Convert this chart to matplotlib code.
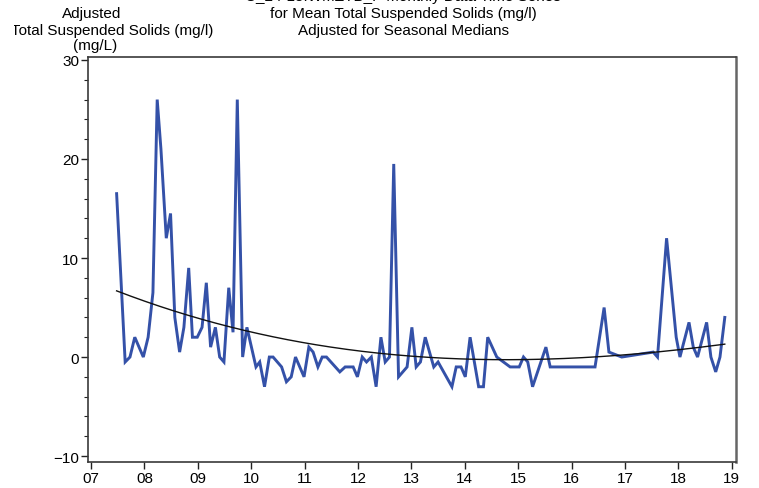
import numpy as np
import matplotlib
matplotlib.use("Agg")
import matplotlib.pyplot as plt
from matplotlib.ticker import MultipleLocator, FixedLocator
from matplotlib.transforms import Bbox

# ---- data ----
years = [2007.48, 2007.64, 2007.73, 2007.82, 2007.98, 2008.07, 2008.16, 2008.24,
         2008.31, 2008.41, 2008.49, 2008.57, 2008.66, 2008.74, 2008.83, 2008.90,
         2008.99, 2009.08, 2009.16, 2009.24, 2009.33, 2009.41, 2009.49, 2009.58,
         2009.66, 2009.74, 2009.84, 2009.92, 2010.09, 2010.16, 2010.25, 2010.34,
         2010.41, 2010.57, 2010.66, 2010.75, 2010.83, 2010.99, 2011.08, 2011.16,
         2011.25, 2011.33, 2011.41, 2011.66, 2011.76, 2011.91, 2011.99, 2012.08,
         2012.16, 2012.25, 2012.34, 2012.43, 2012.51, 2012.59, 2012.67, 2012.76,
         2012.92, 2013.01, 2013.09, 2013.17, 2013.26, 2013.42, 2013.50, 2013.76,
         2013.84, 2013.93, 2014.01, 2014.10, 2014.26, 2014.35, 2014.43, 2014.60,
         2014.85, 2015.02, 2015.10, 2015.18, 2015.27, 2015.52, 2015.60, 2016.44,
         2016.61, 2016.70, 2016.94, 2017.53, 2017.61, 2017.78, 2017.96, 2018.03,
         2018.20, 2018.28, 2018.36, 2018.53, 2018.61, 2018.70, 2018.78, 2018.87]
tss_adj = [16.5, -0.5, 0, 2, 0, 2, 6.5, 26,
           21, 12, 14.5, 4, 0.5, 3, 9, 2,
           2, 3, 7.5, 1, 3, 0, -0.5, 7,
           2.5, 26, 0, 3, -1, -0.5, -3, 0,
           0, -1, -2.5, -2, 0, -2, 1, 0.5,
           -1, 0, 0, -1.5, -1, -1, -2, 0,
           -0.5, 0, -3, 2, -0.5, 0, 19.5, -2,
           -1, 3, -1, -0.5, 2, -1, -0.5, -3,
           -1, -1, -2, 2, -3, -3, 2, 0,
           -1, -1, 0, -0.5, -3, 1, -1, -1,
           5, 0.5, 0, 0.5, 0, 12, 2, 0,
           3.5, 1, 0, 3.5, 0, -1.5, 0, 4]

# trend curve values read at a few positions
trend_years = [2007.48, 2009.64, 2010.54, 2011.89, 2013.16, 2014.10, 2015.03,
               2016.44, 2017.59, 2018.87]
trend_vals = [6.6, 3.2, 1.95, 0.6, -0.1, -0.3, -0.25, 0.15, 0.6, 1.2]

xtick_years = list(range(2007, 2020))
xtick_labels = ["%02d" % (y % 100) for y in xtick_years]
ytick_vals = [-10, 0, 10, 20, 30]

title_lines = ["C_24-15.WMZTB_P Monthly Data Time Series",
               "for Mean Total Suspended Solids (mg/l)",
               "Adjusted for Seasonal Medians"]
ylabel_lines = ["Adjusted", "Total Suspended Solids (mg/l)", "(mg/L)"]

# ---- figure ----
W, H = 759, 489
fig = plt.figure(figsize=(W / 100, H / 100), dpi=100)
plt.rcParams['font.family'] = ['Liberation Sans', 'DejaVu Sans']

L, R, T, B = 88, 736, 58, 463
ax = fig.add_axes([L / W, 1 - B / H, (R - L) / W, (B - T) / H])

blue = '#3451A8'
ax.plot(years, tss_adj, color=blue, lw=2.1, solid_joinstyle='miter', zorder=3)

coef = np.polyfit(np.array(trend_years) - 2007, trend_vals, 3)
tt = np.linspace(trend_years[0], trend_years[-1], 300)
ax.plot(tt, np.polyval(coef, tt - 2007), color='#111111', lw=1.0, zorder=4)

ax.set_xlim(2006.944, 2019.08)
ax.set_ylim(-10.6, 30.3)
ax.xaxis.set_major_locator(FixedLocator(xtick_years))
ax.set_xticklabels(xtick_labels)
ax.yaxis.set_major_locator(FixedLocator(ytick_vals))
ax.yaxis.set_minor_locator(MultipleLocator(2))
ax.tick_params(axis='both', which='major', direction='out', length=5, width=1,
               labelsize=11, colors='#222222', pad=1.5)
ax.tick_params(axis='y', which='minor', direction='out', length=3, width=0.8,
               colors='#222222')
for lab in ax.get_xticklabels() + ax.get_yticklabels():
    lab.set_color('black')
for s in ax.spines.values():
    s.set_color('#3a3a3a')
    s.set_linewidth(1.2)
ax.spines['right'].set_color('#666666')
ax.spines['right'].set_linewidth(1.8)

def px(x, y):
    return x / W, 1 - y / H

# titles
fs = 11
fig.text(*px(403, -3), title_lines[0], ha='center', va='center', fontsize=fs)
fig.text(*px(403, 14), title_lines[1], ha='center', va='center', fontsize=fs)
fig.text(*px(403, 31), title_lines[2], ha='center', va='center', fontsize=fs)

# y label block (clipped at left)
fig.text(*px(92, 14), ylabel_lines[0], ha='center', va='center', fontsize=fs)
t2 = fig.text(*px(112, 31), ylabel_lines[1], ha='center', va='center', fontsize=fs)
t2.set_clip_box(Bbox([[14, 0], [W, H]]))
t2.set_clip_on(True)
fig.text(*px(95, 46), ylabel_lines[2], ha='center', va='center', fontsize=fs)

fig.savefig('out.png', dpi=100)
